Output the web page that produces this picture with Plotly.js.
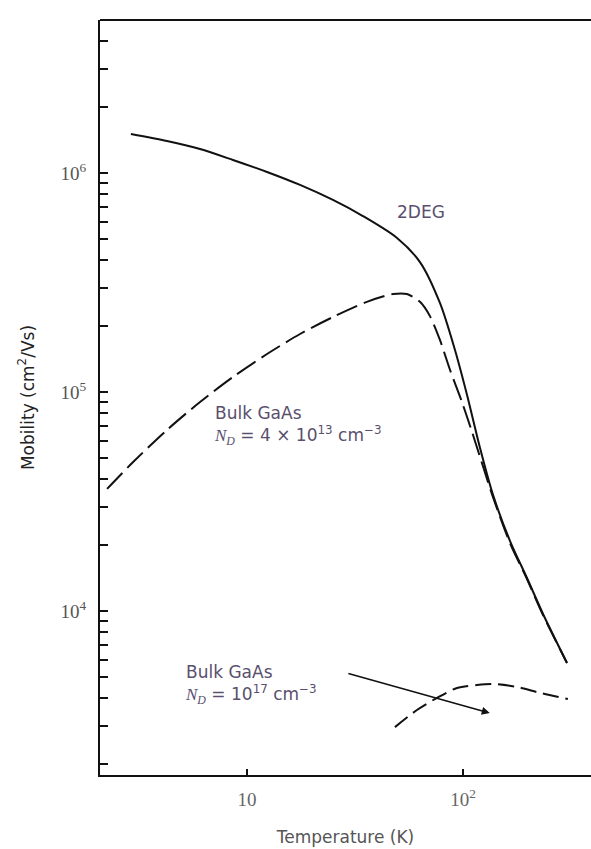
<!DOCTYPE html>
<html>
<head>
<meta charset="utf-8">
<script src="https://cdn.plot.ly/plotly-3.0.1.min.js"></script>
<style>html,body{margin:0;padding:0;background:#fff;}#chart{width:591px;height:849px;}</style>
</head>
<body>
<div id="chart"></div>
<script>
// Temperature (K) and mobility (cm^2/Vs)
const tempTwoDEG = [2.90, 4.26, 6.06, 8.61, 12.38, 17.6, 25.0, 34.4, 49.5, 63.2, 78.2, 91.8, 104.4, 119.9, 137.7, 165.1, 197.8, 234.7, 303];
const mobTwoDEG  = [1.507e6, 1.40e6, 1.287e6, 1.147e6, 1.011e6, 8.82e5, 7.53e5, 6.36e5, 5.05e5, 3.92e5, 2.55e5, 1.555e5, 9.69e4, 5.55e4, 3.39e4, 2.087e4, 1.415e4, 9.69e3, 5.79e3];

const tempBulkLow = [2.25, 2.97, 4.26, 6.06, 8.61, 12.38, 17.6, 25.0, 35.9, 47.4, 55.0, 63.2, 70.3, 78.2, 87.1, 98.9, 110.1, 119.9, 137.7, 165.1, 197.8, 234.7, 303];
const mobBulkLow  = [3.61e4, 4.79e4, 6.71e4, 9.00e4, 1.171e5, 1.491e5, 1.840e5, 2.20e5, 2.58e5, 2.80e5, 2.80e5, 2.58e5, 2.22e5, 1.728e5, 1.260e5, 9.00e4, 6.57e4, 5.05e4, 3.31e4, 2.04e4, 1.40e4, 9.59e3, 5.79e3];

const tempBulkHigh = [48.4, 61.2, 75.8, 93.8, 116, 138, 178, 227, 306];
const mobBulkHigh  = [2950, 3530, 4010, 4450, 4590, 4640, 4500, 4230, 3960];

// axis ticks
const yTickVals = [2e3,3e3,4e3,5e3,6e3,7e3,8e3,9e3,1e4,2e4,3e4,4e4,5e4,6e4,7e4,8e4,9e4,1e5,2e5,3e5,4e5,5e5,6e5,7e5,8e5,9e5,1e6,2e6,3e6,4e6];
const yTickText = yTickVals.map(v => v === 1e4 ? '10<sup>4</sup>' : v === 1e5 ? '10<sup>5</sup>' : v === 1e6 ? '10<sup>6</sup>' : '');
const xTickVals = [10, 100];
const xTickText = ['10', '10<sup>2</sup>'];

// arrow endpoints (T, mobility)
const arrowFrom = [29.0, 5210];
const arrowTo = [133, 3420];

const labelColor = '#5a4f6e';
const sans = 'DejaVu Sans, Liberation Sans, sans-serif';
const traces = [
  {x: tempTwoDEG, y: mobTwoDEG, mode: 'lines', line: {color: '#111', width: 2, shape: 'spline', smoothing: 0.8}, hoverinfo: 'skip'},
  {x: tempBulkLow, y: mobBulkLow, mode: 'lines', line: {color: '#111', width: 2, dash: '22px,7px', shape: 'spline', smoothing: 0.8}, hoverinfo: 'skip'},
  {x: tempBulkHigh, y: mobBulkHigh, mode: 'lines', line: {color: '#111', width: 2, dash: '16px,7px', shape: 'spline', smoothing: 0.8}, hoverinfo: 'skip'}
];

const lg = Math.log10;
const layout = {
  width: 591, height: 849,
  margin: {l: 100, r: 0, t: 20, b: 74},
  paper_bgcolor: '#fff', plot_bgcolor: '#fff',
  showlegend: false,
  xaxis: {
    type: 'log', range: [0.3194, 2.5926],
    showgrid: false, zeroline: false,
    showline: true, linecolor: '#111', linewidth: 2, mirror: false,
    ticks: 'inside', ticklen: 6, tickwidth: 2, tickcolor: '#111',
    tickvals: xTickVals, ticktext: xTickText, ticklabelstandoff: 6,
    tickfont: {family: 'Liberation Serif, serif', size: 19, color: '#666'},
    title: {text: 'Temperature (K)', font: {family: sans, size: 17, color: '#555'}, standoff: 22}
  },
  yaxis: {
    type: 'log', range: [3.2511, 6.6986],
    showgrid: false, zeroline: false,
    showline: true, linecolor: '#111', linewidth: 2, mirror: false,
    ticks: 'inside', ticklen: 8, tickwidth: 2, tickcolor: '#111',
    tickvals: yTickVals, ticktext: yTickText, ticklabelstandoff: 8,
    tickfont: {family: 'Liberation Serif, serif', size: 19, color: '#555'},
    title: {text: 'Mobility (cm<sup>2</sup>/Vs)', font: {family: sans, size: 17, color: '#222'}, standoff: 22}
  },
  shapes: [
    {type: 'line', xref: 'paper', yref: 'paper', x0: 0, x1: 1, y0: 1, y1: 1, line: {color: '#111', width: 2}}
  ],
  annotations: [
    {x: lg(48.4), y: lg(6.64e5), xref: 'x', yref: 'y', text: '2DEG', showarrow: false, xanchor: 'left', yanchor: 'middle',
     font: {family: sans, size: 17, color: labelColor}},
    {x: lg(6.9), y: lg(7.03e4), xref: 'x', yref: 'y', xanchor: 'left', yanchor: 'middle', align: 'left', showarrow: false,
     text: 'Bulk GaAs<br><span style="font-family:Liberation Serif"><i>N<sub>D</sub></i></span> = 4 × 10<sup>13</sup> cm<sup>−3</sup>',
     font: {family: sans, size: 17, color: labelColor}},
    {x: lg(5.06), y: lg(4640), xref: 'x', yref: 'y', xanchor: 'left', yanchor: 'middle', align: 'left', showarrow: false,
     text: 'Bulk GaAs<br><span style="font-family:Liberation Serif"><i>N<sub>D</sub></i></span> = 10<sup>17</sup> cm<sup>−3</sup>',
     font: {family: sans, size: 17, color: labelColor}},
    {x: lg(arrowTo[0]), y: lg(arrowTo[1]), ax: lg(arrowFrom[0]), ay: lg(arrowFrom[1]), xref: 'x', yref: 'y', axref: 'x', ayref: 'y',
     text: '', showarrow: true, arrowhead: 2, arrowsize: 1, arrowwidth: 1.6, arrowcolor: '#111'}
  ]
};
Plotly.newPlot('chart', traces, layout, {displayModeBar: false, staticPlot: true});
</script>
</body>
</html>
